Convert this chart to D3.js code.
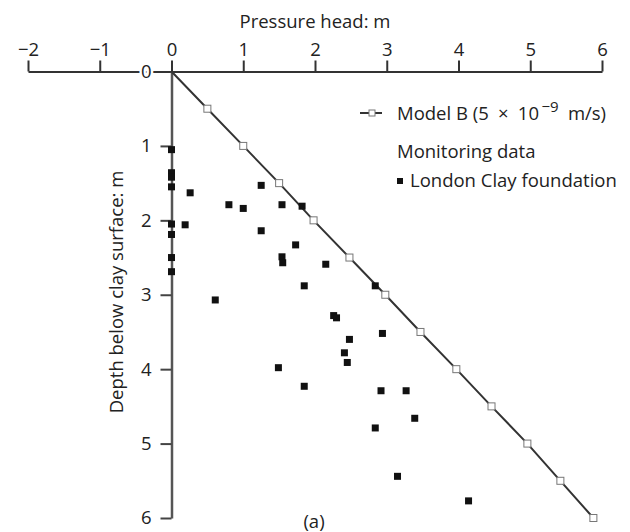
<html>
<head>
<title>pressure head vs depth</title>
<script src="https://d3js.org/d3.v7.min.js"></script>
<style>
body { margin: 0; background: #fff; }
svg { font-family: 'Open Sans', 'DejaVu Sans', sans-serif; }
</style>
</head>
<body>
<svg id="chart" width="630" height="532"></svg>
<script>
// model B line: depth (m) and pressure head (m)
var modelDepth = [0, 0.5, 1, 1.5, 2, 2.5, 3, 3.5, 4, 4.5, 5, 5.5, 6];
var modelHead  = [0, 0.5, 1.0, 1.5, 1.98, 2.48, 2.98, 3.47, 3.97, 4.46, 4.96, 5.42, 5.88];

// monitoring data, London Clay foundation
var obsHead  = [0, 0, 0, 0, 0, 0, 0, 0,
  0.26, 0.19, 0.80, 1.00, 1.25, 1.54, 1.82, 1.25, 1.73, 1.54, 1.55, 2.15,
  1.85, 2.84, 0.61, 2.26, 2.30, 2.94, 2.48, 2.41, 2.45, 1.49, 1.85, 2.92,
  3.27, 3.39, 2.84, 3.15, 4.14];
var obsDepth = [1.05, 1.36, 1.42, 1.55, 2.05, 2.19, 2.50, 2.69,
  1.63, 2.06, 1.79, 1.84, 1.53, 1.79, 1.81, 2.14, 2.33, 2.49, 2.57, 2.59,
  2.88, 2.88, 3.07, 3.28, 3.31, 3.52, 3.60, 3.78, 3.91, 3.98, 4.23, 4.29,
  4.29, 4.66, 4.79, 5.44, 5.77];

var headTicks  = [-2, -1, 0, 1, 2, 3, 4, 5, 6];
var depthTicks = [0, 1, 2, 3, 4, 5, 6];

var svg = d3.select("#chart");
var ink = "#222";
var fs = 18.5;

var xScale = d3.scaleLinear().domain([-2, 6]).range([28, 602]);
var yScale = d3.scaleLinear().domain([0, 6]).range([71.5, 518]);

function fmt(d) { return d < 0 ? "\u2212" + Math.abs(d) : String(d); }

// top axis (pressure head)
var xAxis = d3.axisTop(xScale).tickValues(headTicks).tickFormat(fmt)
  .tickSize(11).tickSizeOuter(0).tickPadding(5);
var gx = svg.append("g").attr("transform", "translate(0," + yScale(0) + ")").call(xAxis);
gx.select(".domain").attr("stroke", "#333").attr("stroke-width", 2);
gx.selectAll(".tick line").attr("stroke", "#333").attr("stroke-width", 2);
gx.selectAll(".tick text").attr("fill", ink).attr("font-size", fs)
  .attr("font-family", "'Open Sans', sans-serif");

svg.append("text")
  .text("Pressure head: m")
  .attr("x", 315)
  .attr("y", 28)
  .attr("text-anchor", "middle")
  .attr("font-size", fs)
  .attr("fill", ink);

// left axis (depth)
var yAxis = d3.axisLeft(yScale).tickValues(depthTicks).tickFormat(fmt)
  .tickSize(11).tickSizeOuter(0).tickPadding(9);
var gy = svg.append("g").attr("transform", "translate(" + xScale(0) + ",0)").call(yAxis);
gy.select(".domain").attr("stroke", "#555").attr("stroke-width", 2.5);
gy.selectAll(".tick line").attr("stroke", "#444").attr("stroke-width", 2);
gy.selectAll(".tick text").attr("fill", ink).attr("font-size", fs)
  .attr("font-family", "'Open Sans', sans-serif");
// the "0" label sits on the top axis line
gy.selectAll(".tick").filter(function (d) { return d === 0; })
  .select("text")
  .attr("stroke", "#fff").attr("stroke-width", 5).attr("paint-order", "stroke");
gy.selectAll(".tick").filter(function (d) { return d === 0; }).select("line").remove();

svg.append("text")
  .text("Depth below clay surface: m")
  .attr("transform", "translate(123,292) rotate(-90)")
  .attr("text-anchor", "middle")
  .attr("font-size", fs)
  .attr("fill", ink);

// model B line
var model = modelDepth.map(function (d, i) { return { depth: d, head: modelHead[i] }; });
var line = d3.line()
  .x(function (d) { return xScale(d.head); })
  .y(function (d) { return yScale(d.depth); });
svg.append("path")
  .datum(model)
  .attr("d", line)
  .attr("fill", "none")
  .attr("stroke", "#333")
  .attr("stroke-width", 2);

model.filter(function (d) { return d.depth > 0; }).forEach(function (d) {
  svg.append("rect")
    .attr("x", xScale(d.head) - 3.5)
    .attr("y", yScale(d.depth) - 3.5)
    .attr("width", 7)
    .attr("height", 7)
    .attr("fill", "#fff")
    .attr("stroke", "#777")
    .attr("stroke-width", 1);
});

// monitoring points
obsHead.forEach(function (h, i) {
  svg.append("rect")
    .attr("x", xScale(h) - 3.5)
    .attr("y", yScale(obsDepth[i]) - 3.5)
    .attr("width", 7)
    .attr("height", 7)
    .attr("fill", "#111");
});

// legend
svg.append("line")
  .attr("x1", 360).attr("y1", 113)
  .attr("x2", 382).attr("y2", 113)
  .attr("stroke", "#333").attr("stroke-width", 2);
svg.append("rect")
  .attr("x", 369).attr("y", 110).attr("width", 6).attr("height", 6)
  .attr("fill", "#fff").attr("stroke", "#777");
var lt = svg.append("text").attr("x", 397).attr("y", 120).attr("font-size", fs).attr("fill", ink);
lt.append("tspan").text("Model B (5\u2002\u00d7\u200210");
lt.append("tspan").text("\u2009\u22129").attr("font-size", 15).attr("dy", -8);
lt.append("tspan").text("\u2002m/s)").attr("dy", 8);

svg.append("text")
  .text("Monitoring data")
  .attr("x", 397).attr("y", 158)
  .attr("font-size", fs).attr("fill", ink);
svg.append("rect")
  .attr("x", 397).attr("y", 178).attr("width", 6).attr("height", 6)
  .attr("fill", "#111");
svg.append("text")
  .text("London Clay foundation")
  .attr("x", 410).attr("y", 187)
  .attr("font-size", fs).attr("fill", ink);

svg.append("text")
  .text("(a)")
  .attr("x", 314).attr("y", 528)
  .attr("text-anchor", "middle")
  .attr("font-size", fs).attr("fill", ink);
</script>
</body>
</html>
